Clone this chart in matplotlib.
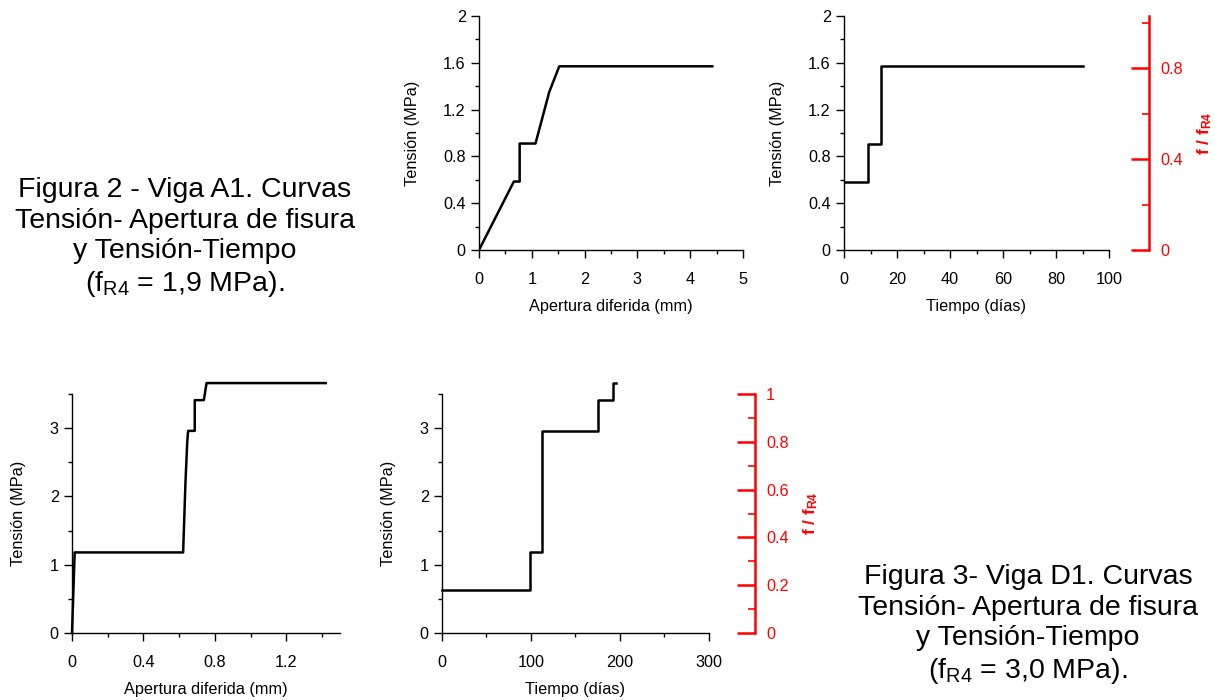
import matplotlib
matplotlib.use('Agg')
import matplotlib.pyplot as plt
from matplotlib.ticker import MultipleLocator, FormatStrFormatter

plt.rcParams['font.family'] = ['Liberation Sans', 'DejaVu Sans']
plt.rcParams['mathtext.fontset'] = 'custom'
plt.rcParams['mathtext.rm'] = 'Liberation Sans'
plt.rcParams['mathtext.it'] = 'Liberation Sans:italic'
plt.rcParams['mathtext.bf'] = 'Liberation Sans:bold'

# Viga A1 (fR4 = 1,9 MPa)
a1_apertura = [0, 0.66, 0.77, 0.77, 1.07, 1.33, 1.52, 4.42]
a1_tension_ap = [0, 0.585, 0.585, 0.91, 0.91, 1.35, 1.57, 1.57]
a1_tiempo = [0, 9.1, 9.1, 14.1, 14.1, 90.2]
a1_tension_t = [0.585, 0.585, 0.91, 0.91, 1.57, 1.57]

# Viga D1 (fR4 = 3,0 MPa)
d1_apertura = [0, 0.015, 0.622, 0.635, 0.645, 0.65, 0.687, 0.687, 0.738, 0.753, 1.42]
d1_tension_ap = [0, 1.18, 1.18, 2.2, 2.8, 2.96, 2.96, 3.41, 3.41, 3.66, 3.66]
d1_tiempo = [0, 98.5, 98.5, 112, 112, 175, 175, 191.7, 191.7, 195.9]
d1_tension_t = [0.63, 0.63, 1.19, 1.19, 2.96, 2.96, 3.41, 3.41, 3.66, 3.66]

cap1 = 'Figura 2 - Viga A1. Curvas\nTensión- Apertura de fisura\ny Tensión-Tiempo\n(f$_{\\mathrm{R4}}$ = 1,9 MPa).'
cap2 = 'Figura 3- Viga D1. Curvas\nTensión- Apertura de fisura\ny Tensión-Tiempo\n(f$_{\\mathrm{R4}}$ = 3,0 MPa).'

W, H = 1215, 700
fs = 11.7
fig = plt.figure(figsize=(W/100, H/100), dpi=100)

def box(l, r, b, t):
    return [l/W, 1-b/H, (r-l)/W, (b-t)/H]

def style(ax, xmaj, xmin, ymaj, ymin):
    ax.spines['top'].set_visible(False)
    ax.spines['right'].set_visible(False)
    for s in ['left', 'bottom']:
        ax.spines[s].set_linewidth(1.0)
    ax.xaxis.set_major_locator(MultipleLocator(xmaj))
    ax.xaxis.set_minor_locator(MultipleLocator(xmin))
    ax.yaxis.set_major_locator(MultipleLocator(ymaj))
    ax.yaxis.set_minor_locator(MultipleLocator(ymin))
    ax.xaxis.set_major_formatter(FormatStrFormatter('%g'))
    ax.yaxis.set_major_formatter(FormatStrFormatter('%g'))
    ax.tick_params(which='major', length=5.5, width=1.0, labelsize=fs, direction='out')
    ax.tick_params(which='minor', length=3, width=1.0, direction='out')
    ax.tick_params(axis='x', pad=10)
    ax.tick_params(axis='y', pad=4)
    ax.set_ylabel('Tensión (MPa)', fontsize=fs, labelpad=17)

def red_axis(ax, top, maj, mino, offset):
    tw = ax.twinx()
    for s in ['left', 'top', 'bottom']:
        tw.spines[s].set_visible(False)
    tw.spines['right'].set_position(('outward', offset))
    tw.spines['right'].set_color('red')
    tw.spines['right'].set_linewidth(1.8)
    tw.set_ylim(0, top)
    tw.yaxis.set_major_locator(MultipleLocator(maj))
    tw.yaxis.set_minor_locator(MultipleLocator(mino))
    tw.yaxis.set_major_formatter(FormatStrFormatter('%g'))
    tw.tick_params(axis='y', which='major', direction='in', length=13, width=1.8,
                   colors='red', labelsize=fs, pad=8)
    tw.tick_params(axis='y', which='minor', direction='in', length=5, width=1.2, colors='red')
    tw.set_ylabel('f / f$_{\\mathbf{R4}}$', color='red', fontsize=12.5, fontweight='bold', labelpad=9)
    return tw

# panel 1
ax1 = fig.add_axes(box(479, 743, 250, 16))
ax1.plot(a1_apertura, a1_tension_ap, color='black', lw=1.8)
ax1.set_xlim(0, 5)
ax1.set_ylim(0, 2)
style(ax1, 1, 0.5, 0.4, 0.2)
ax1.set_xlabel('Apertura diferida (mm)', fontsize=fs, labelpad=9)

# panel 2
ax2 = fig.add_axes(box(844, 1109, 250, 16))
ax2.plot(a1_tiempo, a1_tension_t, color='black', lw=1.8)
ax2.set_xlim(0, 100)
ax2.set_ylim(0, 2)
style(ax2, 20, 10, 0.4, 0.2)
ax2.set_xlabel('Tiempo (días)', fontsize=fs, labelpad=9)
red_axis(ax2, 1.03, 0.4, 0.2, 29)

# panel 3
ax3 = fig.add_axes(box(72, 340, 633, 394))
ax3.plot(d1_apertura, d1_tension_ap, color='black', lw=1.8, clip_on=False)
ax3.set_xlim(0, 1.5)
ax3.set_ylim(0, 3.5)
style(ax3, 0.4, 0.2, 1, 0.5)
ax3.set_xlabel('Apertura diferida (mm)', fontsize=fs, labelpad=9)

# panel 4
ax4 = fig.add_axes(box(442, 709, 633, 394))
ax4.plot(d1_tiempo, d1_tension_t, color='black', lw=1.8, clip_on=False)
ax4.set_xlim(0, 300)
ax4.set_ylim(0, 3.5)
style(ax4, 100, 50, 1, 0.5)
ax4.set_xlabel('Tiempo (días)', fontsize=fs, labelpad=9)
red_axis(ax4, 1.0, 0.2, 0.1, 33)

fig.text(185/W, 1-238/H, cap1, ha='center', va='center', fontsize=20.5, linespacing=1.22)
fig.text(1028/W, 1-625/H, cap2, ha='center', va='center', fontsize=20.5, linespacing=1.22)

fig.savefig('out.png', dpi=100)
